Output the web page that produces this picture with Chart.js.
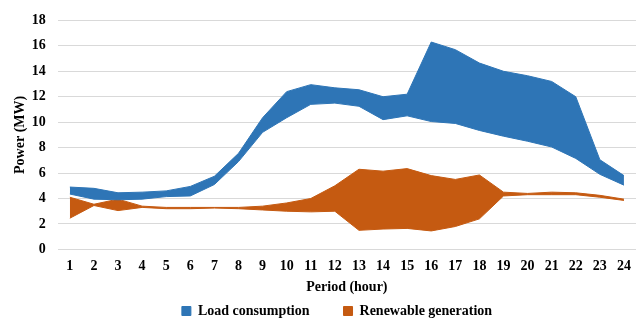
<!DOCTYPE html>
<html>
<head>
<meta charset="utf-8">
<script src="https://cdn.jsdelivr.net/npm/chart.js@4/dist/chart.umd.min.js"></script>
<style>
  html, body { margin: 0; padding: 0; background: #fff; }
  #wrap { width: 641px; height: 322px; }
</style>
</head>
<body>
<div id="wrap"><canvas id="bandChart"></canvas></div>
<script>
// Periods (hours)
const periods = ['1','2','3','4','5','6','7','8','9','10','11','12','13','14','15','16','17','18','19','20','21','22','23','24'];

// Load consumption band (MW)
const loadUpper = [4.9, 4.8, 4.45, 4.5, 4.6, 4.95, 5.75, 7.55, 10.35, 12.4, 12.95, 12.7, 12.55, 12.0, 12.2, 16.3, 15.7, 14.65, 14.0, 13.65, 13.2, 12.0, 7.05, 5.8];
const loadLower = [4.35, 3.95, 3.9, 3.95, 4.15, 4.2, 5.1, 6.9, 9.2, 10.35, 11.4, 11.5, 11.25, 10.2, 10.5, 10.05, 9.9, 9.35, 8.9, 8.5, 8.05, 7.15, 5.9, 5.05];

// Renewable generation band (MW)
const renewUpper = [4.1, 3.55, 3.95, 3.4, 3.3, 3.3, 3.3, 3.3, 3.4, 3.65, 4.0, 5.0, 6.3, 6.15, 6.35, 5.8, 5.5, 5.85, 4.5, 4.4, 4.5, 4.45, 4.25, 3.95];
const renewLower = [2.45, 3.45, 3.05, 3.3, 3.2, 3.2, 3.25, 3.2, 3.1, 3.0, 2.95, 3.0, 1.5, 1.6, 1.65, 1.45, 1.8, 2.4, 4.2, 4.3, 4.3, 4.3, 4.1, 3.85];

const blue = '#2E75B6';
const orange = '#C55A11';
const serif = '"Liberation Serif", "Times New Roman", serif';
const boldFont = { family: serif, size: 14, weight: 'bold' };

// nudge the legend a bit right of the canvas centre, like the original
const legendShift = {
    id: 'legendShift',
    afterLayout(chart) {
        if (chart.legend) {
            chart.legend.left += 13;
            chart.legend.right += 13;
        }
    }
};

const ctx = document.getElementById('bandChart').getContext('2d');
const bandChart = new Chart(ctx, {
    type: 'line',
    data: {
        labels: periods,
        datasets: [
            { label: 'Load consumption', data: loadUpper, borderColor: blue, backgroundColor: blue, borderWidth: 1, pointRadius: 0, fill: false },
            { label: '', data: loadLower, borderColor: blue, backgroundColor: blue, borderWidth: 1, pointRadius: 0, fill: '-1' },
            { label: 'Renewable generation', data: renewUpper, borderColor: orange, backgroundColor: orange, borderWidth: 1, pointRadius: 0, fill: false },
            { label: '', data: renewLower, borderColor: orange, backgroundColor: orange, borderWidth: 1, pointRadius: 0, fill: '-1' }
        ]
    },
    plugins: [legendShift],
    options: {
        responsive: true,
        maintainAspectRatio: false,
        animation: false,
        layout: { padding: { left: 12, right: 5, top: 4, bottom: -6 } },
        plugins: {
            tooltip: { enabled: false },
            legend: {
                position: 'bottom',
                labels: {
                    filter: item => item.text !== '',
                    boxWidth: 9,
                    boxHeight: 9,
                    padding: 34,
                    color: '#000',
                    font: boldFont
                }
            }
        },
        scales: {
            x: {
                offset: true,
                grid: { display: false, drawTicks: false },
                border: { display: false },
                ticks: { color: '#000', padding: 9, font: boldFont },
                title: { display: true, text: 'Period (hour)', color: '#000', padding: { top: -5, bottom: -26 }, font: boldFont }
            },
            y: {
                min: 0,
                max: 18,
                ticks: { stepSize: 2, color: '#000', padding: 12, font: boldFont },
                grid: { color: '#d9d9d9', lineWidth: 1, drawTicks: false },
                border: { display: false },
                title: { display: true, text: 'Power (MW)', color: '#000', padding: { top: 0, bottom: -9 }, font: boldFont }
            }
        }
    }
});
</script>
</body>
</html>
